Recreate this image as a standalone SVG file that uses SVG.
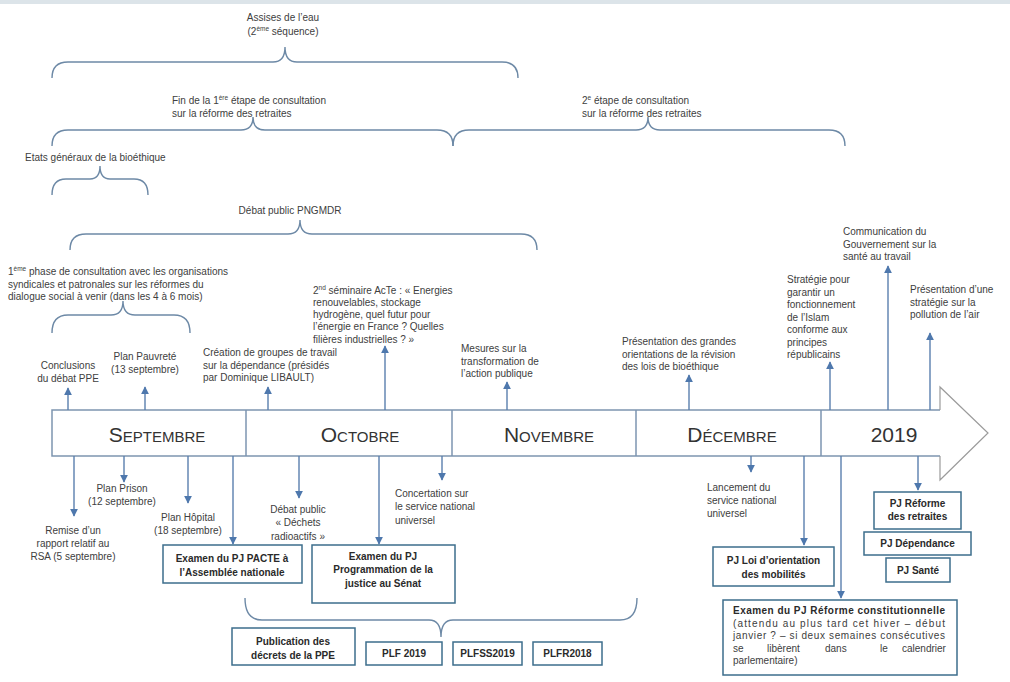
<svg xmlns="http://www.w3.org/2000/svg" width="1010" height="682" viewBox="0 0 1010 682">
<defs>
<marker id="ah" markerUnits="userSpaceOnUse" markerWidth="8" markerHeight="8" viewBox="0 0 10 10" refX="9" refY="5" orient="auto"><path d="M0,0 L10,5 L0,10 z" fill="#4e78ad"/></marker>
<style>
.t{font-family:"Liberation Sans",Arial,sans-serif;font-size:10px;fill:#404040}
.c{text-anchor:middle}
.b{font-family:"Liberation Sans",Arial,sans-serif;font-size:10px;font-weight:bold;fill:#2a2a2a;text-anchor:middle}
.br{fill:none;stroke:#6d89a6;stroke-width:1.4}
.ar{fill:none;stroke:#5a7fae;stroke-width:1.4;marker-end:url(#ah)}
.bx{fill:#fff;stroke:#3d6e8c;stroke-width:1.5}
.m{font-family:"Liberation Sans",Arial,sans-serif;fill:#333;text-anchor:middle;font-size:15px}
.M{font-size:21px}
.band{fill:#fff;stroke:#7d95b0;stroke-width:1.5}
.dv{stroke:#7d95b0;stroke-width:1.5}
</style>
</defs>
<rect x="0" y="0" width="1010" height="682" fill="#fff"/>
<rect x="0" y="0" width="1010" height="4" fill="#dce4e9"/>

<g id="braces">
<path class="br" d="M52,78 Q52,62 68,62 H273 Q285,62 285,47 Q285,62 297,62 H502 Q518,62 518,78"/>
<path class="br" d="M52,146 Q52,130 68,130 H241 Q253,130 253,117 Q253,130 265,130 H437 Q453,130 453,146"/>
<path class="br" d="M453,146 Q453,130 469,130 H636 Q648,130 648,117 Q648,130 660,130 H829 Q845,130 845,146"/>
<path class="br" d="M52,195 Q52,179 66,179 H90 Q100,179 100,166 Q100,179 110,179 H134 Q148,179 148,195"/>
<path class="br" d="M70,250 Q70,234 86,234 H288 Q300,234 300,220 Q300,234 312,234 H521 Q537,234 537,250"/>
<path class="br" d="M52,333 Q52,315 68,315 H111 Q123,315 123,301 Q123,315 135,315 H174 Q190,315 190,333"/>
<path class="br" d="M245,598 Q245,620 262,620 H429 Q441,620 441,637 Q441,620 453,620 H620 Q637,620 637,598"/>
</g>

<g id="timeline">
<path class="band" d="M940,410 H52 V456 H940"/>
<path d="M940,410 V387 L988,433 L940,480 V456" fill="#fff" stroke="#9b9b9b" stroke-width="1.2"/>
<line class="dv" x1="246" y1="410" x2="246" y2="456"/>
<line class="dv" x1="452" y1="410" x2="452" y2="456"/>
<line class="dv" x1="636" y1="410" x2="636" y2="456"/>
<line class="dv" x1="821" y1="410" x2="821" y2="456"/>
<text class="m" x="157" y="442"><tspan class="M">S</tspan>EPTEMBRE</text>
<text class="m" x="360" y="442"><tspan class="M">O</tspan>CTOBRE</text>
<text class="m" x="549" y="442"><tspan class="M">N</tspan>OVEMBRE</text>
<text class="m" x="732" y="442"><tspan class="M">D</tspan>ÉCEMBRE</text>
<text class="m M" x="894" y="442">2019</text>
</g>

<g id="connectors">
<path class="ar" d="M68,410 V388"/>
<path class="ar" d="M145,410 V387"/>
<path class="ar" d="M268,410 V387"/>
<path class="ar" d="M385,410 V346"/>
<path class="ar" d="M507,410 V382"/>
<path class="ar" d="M689,410 V375"/>
<path class="ar" d="M830,410 V362"/>
<path class="ar" d="M888,410 V266"/>
<path class="ar" d="M930,410 V333"/>
<path class="ar" d="M74,456 V516"/>
<path class="ar" d="M124,456 V482"/>
<path class="ar" d="M188,456 V503"/>
<path class="ar" d="M233,456 V544"/>
<path class="ar" d="M299,456 V498"/>
<path class="ar" d="M379,456 V544"/>
<path class="ar" d="M442,456 V480"/>
<path class="ar" d="M751,456 V472"/>
<path class="ar" d="M804,456 V545"/>
<path class="ar" d="M841,456 V598"/>
<path class="ar" d="M918,456 V490"/>
</g>

<g id="assises"><text class="t c" x="283" y="21">Assises de l’eau</text>
<text class="t c" x="283" y="35">(2<tspan dy="-4" font-size="6.5">ème</tspan><tspan dy="4"> séquence)</tspan></text></g>
<g id="retraites1"><text class="t" x="172" y="104">Fin de la 1<tspan dy="-4" font-size="6.5">ère</tspan><tspan dy="4"> étape de consultation</tspan></text>
<text class="t" x="172" y="117">sur la réforme des retraites</text></g>
<g id="retraites2"><text class="t" x="582" y="104">2<tspan dy="-4" font-size="6.5">e</tspan><tspan dy="4"> étape de consultation</tspan></text>
<text class="t" x="582" y="117">sur la réforme des retraites</text></g>
<g id="bioethique"><text class="t" x="25" y="161">Etats généraux de la bioéthique</text></g>
<g id="pngmdr"><text class="t c" x="290" y="214">Débat public  PNGMDR</text></g>
<g id="phase1"><text class="t" x="8" y="275">1<tspan dy="-4" font-size="6.5">ème</tspan><tspan dy="4"> phase de consultation avec les organisations</tspan></text>
<text class="t" x="8" y="287.5">syndicales et patronales sur les réformes du</text>
<text class="t" x="8" y="300">dialogue social à venir (dans les 4 à 6 mois)</text></g>

<g id="ppe"><text class="t c" x="68" y="369">Conclusions</text><text class="t c" x="68" y="381.5">du débat PPE</text></g>
<g id="pauvrete"><text class="t c" x="145" y="360">Plan  Pauvreté</text><text class="t c" x="145" y="372.5">(13 septembre)</text></g>
<g id="dependance"><text class="t" x="203" y="356">Création de groupes  de travail</text><text class="t" x="203" y="368.5">sur la dépendance  (présidés</text><text class="t" x="203" y="381">par Dominique  LIBAULT)</text></g>
<g id="acte"><text class="t" x="313" y="294">2<tspan dy="-4" font-size="6.5">nd</tspan><tspan dy="4"> séminaire  AcTe : « Energies</tspan></text>
<text class="t" x="313" y="306">renouvelables, stockage</text>
<text class="t" x="313" y="318">hydrogène, quel futur pour</text>
<text class="t" x="313" y="330">l’énergie en France  ? Quelles</text>
<text class="t" x="313" y="342.5">filières industrielles ?  »</text></g>
<g id="mesures"><text class="t" x="461" y="352">Mesures sur la</text><text class="t" x="461" y="364.5">transformation de</text><text class="t" x="461" y="377">l’action publique</text></g>
<g id="revision"><text class="t" x="622" y="345">Présentation des grandes</text><text class="t" x="622" y="357.5">orientations de la révision</text><text class="t" x="622" y="370">des lois de bioéthique</text></g>
<g id="islam"><text class="t" x="787" y="283">Stratégie pour</text><text class="t" x="787" y="295.5">garantir un</text><text class="t" x="787" y="308">fonctionnement</text><text class="t" x="787" y="320.5">de l’Islam</text><text class="t" x="787" y="333">conforme  aux</text><text class="t" x="787" y="345.5">principes</text><text class="t" x="787" y="358">républicains</text></g>
<g id="sante-travail"><text class="t" x="843" y="235">Communication  du</text><text class="t" x="843" y="247.5">Gouvernement  sur la</text><text class="t" x="843" y="260">santé au travail</text></g>
<g id="pollution"><text class="t" x="910" y="293">Présentation d’une</text><text class="t" x="910" y="305.5">stratégie sur la</text><text class="t" x="910" y="318">pollution de l’air</text></g>

<g id="rsa"><text class="t c" x="73" y="533.5">Remise  d’un</text><text class="t c" x="73" y="546.5">rapport relatif au</text><text class="t c" x="73" y="559.5">RSA  (5 septembre)</text></g>
<g id="prison"><text class="t c" x="122" y="491.5">Plan  Prison</text><text class="t c" x="122" y="505">(12 septembre)</text></g>
<g id="hopital"><text class="t c" x="188" y="520.5">Plan  Hôpital</text><text class="t c" x="188" y="533.5">(18 septembre)</text></g>
<g id="dechets"><text class="t c" x="298" y="512.5">Débat public</text><text class="t c" x="298" y="526">« Déchets</text><text class="t c" x="298" y="539.5">radioactifs »</text></g>
<g id="snu-concertation"><text class="t" x="395" y="496.5">Concertation sur</text><text class="t" x="395" y="510">le service national</text><text class="t" x="395" y="523.5">universel</text></g>
<g id="snu-lancement"><text class="t" x="707" y="490.5">Lancement  du</text><text class="t" x="707" y="503.5">service national</text><text class="t" x="707" y="516.5">universel</text></g>

<g id="pacte"><rect class="bx" x="163" y="545" width="139" height="38"/><text class="b" x="232" y="561.5">Examen du PJ PACTE à</text><text class="b" x="232" y="576">l’Assemblée nationale</text></g>
<g id="justice"><rect class="bx" x="312" y="545" width="143" height="58"/><text class="b" x="383" y="559.5">Examen du PJ</text><text class="b" x="383" y="573">Programmation  de la</text><text class="b" x="383" y="586.5">justice au Sénat</text></g>
<g id="ppe-decrets"><rect class="bx" x="232" y="628" width="123" height="37"/><text class="b" x="293" y="644.5">Publication  des</text><text class="b" x="293" y="658.5">décrets de la PPE</text></g>
<g id="plf"><rect class="bx" x="366" y="642" width="76" height="23"/><text class="b" x="404" y="657">PLF 2019</text></g>
<g id="plfss"><rect class="bx" x="453" y="642" width="69" height="23"/><text class="b" x="487.5" y="657">PLFSS2019</text></g>
<g id="plfr"><rect class="bx" x="533" y="642" width="69" height="23"/><text class="b" x="567.5" y="657">PLFR2018</text></g>
<g id="mobilites"><rect class="bx" x="713" y="547" width="121" height="39"/><text class="b" x="773.5" y="564">PJ Loi d’orientation</text><text class="b" x="773.5" y="577.5">des mobilités</text></g>
<g id="constitution"><rect class="bx" x="723" y="600" width="234" height="75"/>
<text class="b" x="733" y="614" style="text-anchor:start" textLength="212" lengthAdjust="spacing">Examen du PJ Réforme constitutionnelle</text>
<text class="t" x="733" y="626.5" textLength="212" lengthAdjust="spacing">(attendu au plus tard cet hiver – début</text>
<text class="t" x="733" y="639" textLength="212" lengthAdjust="spacing">janvier ? – si deux semaines consécutives</text>
<text class="t" y="651.5"><tspan x="733">se</tspan><tspan x="767">libèrent</tspan><tspan x="825">dans</tspan><tspan x="880">le</tspan><tspan x="902">calendrier</tspan></text>
<text class="t" x="733" y="664">parlementaire)</text></g>
<g id="retraites-pj"><rect class="bx" x="874" y="492" width="87" height="37"/><text class="b" x="917.5" y="506.5">PJ Réforme</text><text class="b" x="917.5" y="520">des retraites</text></g>
<g id="dependance-pj"><rect class="bx" x="864" y="532" width="107" height="23"/><text class="b" x="917.5" y="547">PJ Dépendance</text></g>
<g id="sante-pj"><rect class="bx" x="886" y="558" width="64" height="24"/><text class="b" x="918" y="573.5">PJ Santé</text></g>
</svg>
